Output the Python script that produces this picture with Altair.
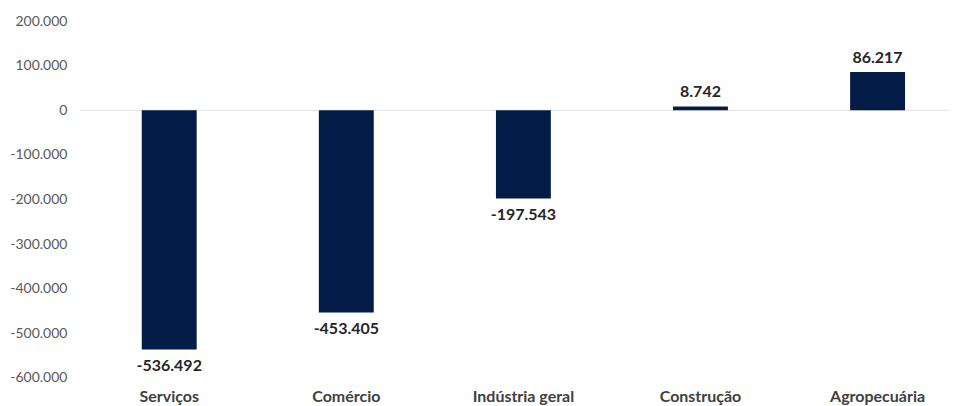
import altair as alt
import pandas as pd

categories = ["Serviços", "Comércio", "Indústria geral", "Construção", "Agropecuária"]
values = [-536492, -453405, -197543, 8742, 86217]
y_ticks = [200000, 100000, 0, -100000, -200000, -300000, -400000, -500000, -600000]

df = pd.DataFrame({"setor": categories, "saldo": values})

FONT = "Lato"
fmt = "replace(replace(format({v}, ','), regexp(',', 'g'), '.'), '\u2212', '-')"

x_scale = alt.Scale(paddingInner=0.69, paddingOuter=0.296, align=0.59)
y_scale = alt.Scale(domain=[-600000, 200000], nice=False, zero=False)

x_enc = alt.X(
    "setor:N",
    sort=categories,
    scale=x_scale,
    axis=alt.Axis(
        title=None, labelAngle=0, ticks=False, domain=False,
        labelFont=FONT, labelFontSize=16, labelFontWeight="bold",
        labelColor="#404040", labelPadding=11, orient="bottom",
    ),
)

base = alt.Chart(df)

bars = base.mark_bar(color="#021b47").encode(
    x=x_enc,
    y=alt.Y(
        "saldo:Q",
        scale=y_scale,
        axis=alt.Axis(
            title=None, values=y_ticks, grid=False, ticks=False, domain=False,
            labelFont=FONT, labelFontSize=14, labelColor="#595959",
            labelPadding=13, labelExpr=fmt.format(v="datum.value"),
        ),
    ),
)

zero = alt.Chart(pd.DataFrame({"z": [0]})).mark_rule(color="#e3e3e3", strokeWidth=1).encode(
    y=alt.Y("z:Q", scale=y_scale)
)

lab = base.transform_calculate(txt=fmt.format(v="datum.saldo"))

neg_text = lab.transform_filter("datum.saldo < 0").mark_text(
    baseline="top", dy=9, font=FONT, fontSize=16, fontWeight="bold", color="#262626"
).encode(x=alt.X("setor:N", sort=categories), y=alt.Y("saldo:Q", scale=y_scale), text="txt:N")

pos_text = lab.transform_filter("datum.saldo >= 0").mark_text(
    baseline="bottom", dy=-6, font=FONT, fontSize=16, fontWeight="bold", color="#262626"
).encode(x=alt.X("setor:N", sort=categories), y=alt.Y("saldo:Q", scale=y_scale), text="txt:N")

chart = alt.layer(zero, bars, neg_text, pos_text).properties(
    width=869, height=357, padding={"left": 1, "top": 6, "right": 0, "bottom": 0},
    background="white",
).configure_view(stroke=None)

chart.save("out.html", embed_options={"renderer": "svg", "actions": False})
